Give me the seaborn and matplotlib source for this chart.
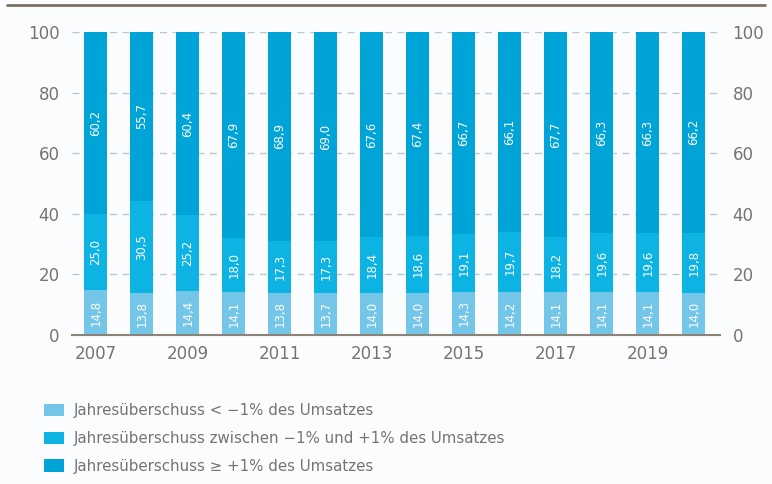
import matplotlib
matplotlib.use("Agg")
import matplotlib.pyplot as plt
from matplotlib.lines import Line2D
from matplotlib.patches import Patch
import seaborn as sns
import pandas as pd

years = [str(y) for y in range(2007, 2021)]
below = [14.8, 13.8, 14.4, 14.1, 13.8, 13.7, 14.0, 14.0, 14.3, 14.2, 14.1, 14.1, 14.1, 14.0]
between = [25.0, 30.5, 25.2, 18.0, 17.3, 17.3, 18.4, 18.6, 19.1, 19.7, 18.2, 19.6, 19.6, 19.8]
above = [60.2, 55.7, 60.4, 67.9, 68.9, 69.0, 67.6, 67.4, 66.7, 66.1, 67.7, 66.3, 66.3, 66.2]
tick_years = ["2007", "2009", "2011", "2013", "2015", "2017", "2019"]
y_ticks = [0, 20, 40, 60, 80, 100]

series_labels = [
    "Jahresüberschuss < −1% des Umsatzes",
    "Jahresüberschuss zwischen −1% und +1% des Umsatzes",
    "Jahresüberschuss ≥ +1% des Umsatzes",
]
colors = ["#74c6e8", "#0db4e3", "#00a4d7"]
text_grey = "#747474"

df = pd.DataFrame({"Jahr": years, "below": below, "between": between, "above": above})

sns.set_theme(style="white")
plt.rcParams["font.family"] = ["DejaVu Sans"]

fig = plt.figure(figsize=(7.72, 4.84), dpi=100)
fig.patch.set_facecolor("#fbfcfd")
ax = fig.add_axes([72 / 772, 149 / 484, 648 / 772, 303 / 484])
ax.set_facecolor("#fbfcfd")

# dashed grid behind the bars
for v in y_ticks[1:]:
    ax.axhline(v, color="#b9c8d3", lw=1.0, ls=(0, (5, 4)), zorder=0)

# stacked bars: each series sits on top of the previous ones
bottom = [0.0] * len(years)
for col, color in zip(["below", "between", "above"], colors):
    sns.barplot(data=df, x="Jahr", y=col, color=color, width=0.5,
                bottom=bottom, ax=ax, saturation=1, zorder=2, linewidth=0)
    for i, v in enumerate(df[col]):
        ax.text(i, bottom[i] + v / 2, f"{v:.1f}".replace(".", ","),
                rotation=90, ha="center", va="center", color="white",
                fontsize=8.5, zorder=3)
    bottom = [b + v for b, v in zip(bottom, df[col])]

ax.set_ylim(0, 100)
ax.set_xlim(-0.52, 13.57)
ax.set_xlabel("")
ax.set_ylabel("")
ax.set_yticks(y_ticks)
ax.set_yticklabels([str(t) for t in y_ticks])
ax.set_xticks([years.index(y) for y in tick_years])
ax.set_xticklabels(tick_years)
ax.tick_params(axis="y", length=0, pad=9, labelsize=12, labelcolor=text_grey,
               labelright=True, right=False)
ax.tick_params(axis="x", length=0, pad=7, labelsize=12, labelcolor=text_grey)
for side in ["top", "left", "right"]:
    ax.spines[side].set_visible(False)
ax.spines["bottom"].set_color("#8c8478")
ax.spines["bottom"].set_linewidth(1.5)
ax.spines["bottom"].set_zorder(4)

# thin dark rule across the top of the figure
fig.add_artist(Line2D([7 / 772, 765 / 772], [1 - 5 / 484, 1 - 5 / 484],
                      color="#7a7264", lw=2.0))

handles = [Patch(facecolor=c, edgecolor="none") for c in colors]
fig.legend(handles, series_labels, loc="upper left",
           bbox_to_anchor=(38 / 772, 1 - 397 / 484), frameon=False,
           fontsize=10.8, labelcolor=text_grey, handlelength=1.3, handleheight=0.9,
           handletextpad=0.7, labelspacing=0.86, borderaxespad=0)

fig.savefig("out.png", dpi=100, facecolor=fig.get_facecolor())
